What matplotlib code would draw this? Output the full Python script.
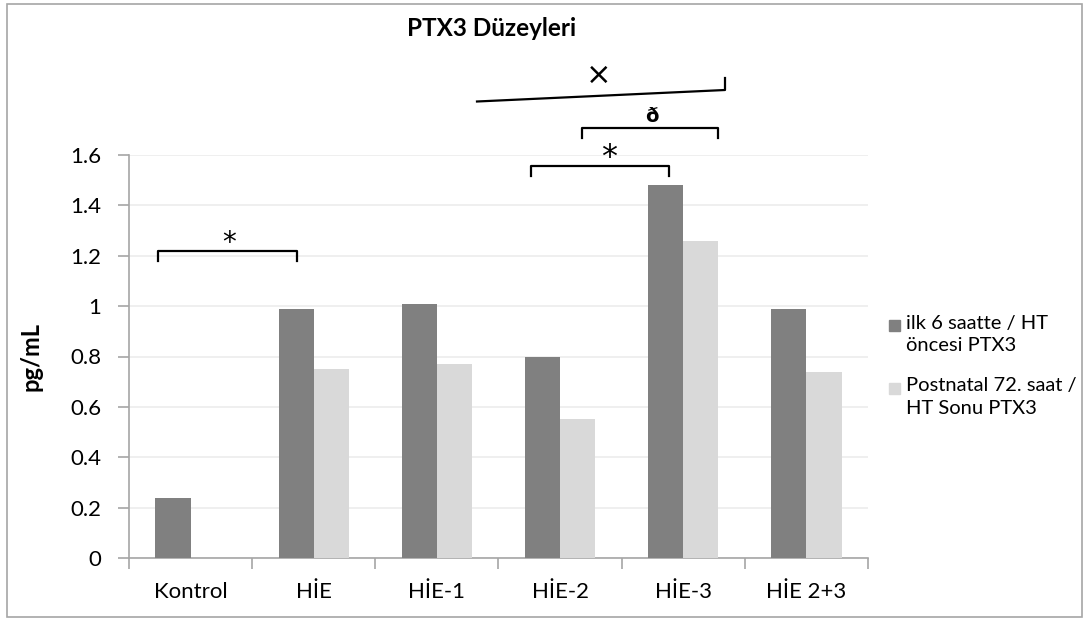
import matplotlib
matplotlib.use("Agg")
import matplotlib.pyplot as plt
from matplotlib.patches import Rectangle
import numpy as np

categories = ["Kontrol", "HİE", "HİE-1", "HİE-2", "HİE-3", "HİE 2+3"]
series_names = ["ilk 6 saatte / HT\nöncesi PTX3", "Postnatal 72. saat /\nHT Sonu PTX3"]
before = [0.24, 0.99, 1.01, 0.80, 1.48, 0.99]
after = [0.0, 0.75, 0.77, 0.55, 1.26, 0.74]
yticks = [0, 0.2, 0.4, 0.6, 0.8, 1, 1.2, 1.4, 1.6]
ytick_labels = ["0", "0.2", "0.4", "0.6", "0.8", "1", "1.2", "1.4", "1.6"]
title = "PTX3 Düzeyleri"
ylabel = "pg/mL"

FAM = ["Lato", "DejaVu Sans"]
plt.rcParams["font.family"] = FAM

dark = "#808080"
light = "#d9d9d9"
axis_col = "#a6a6a6"

W, H = 1090, 619
fig = plt.figure(figsize=(W / 100, H / 100), dpi=100)

def fx(px):
    return px / W

def fy(py):
    return 1 - py / H

# outer border
fig.patches.append(Rectangle((fx(7), fy(617)), fx(1082) - fx(7), fy(4) - fy(617),
                             transform=fig.transFigure, fill=False,
                             edgecolor="#a6a6a6", lw=1.2, zorder=0))

ax = fig.add_axes([fx(129), fy(558), fx(868) - fx(129), fy(155) - fy(558)])
x = np.arange(len(categories))
bw = 0.285
ax.bar(x - bw / 2, before, bw, color=dark, zorder=3)
ax.bar(x + bw / 2, after, bw, color=light, zorder=3)

ax.set_xlim(-0.5, len(categories) - 0.5)
ax.set_ylim(0, 1.6)
ax.set_yticks(yticks)
ax.set_yticklabels(ytick_labels, fontsize=16)
ax.yaxis.grid(True, color="#ececec", lw=1.2, zorder=0)
ax.set_axisbelow(True)

ax.set_xticks(x)
ax.set_xticklabels(categories, fontsize=16)
ax.tick_params(axis="x", length=0, pad=17)
ax.set_xticks(np.arange(-0.5, len(categories)), minor=True)
ax.tick_params(axis="x", which="minor", length=8, color=axis_col, width=1.2)
ax.tick_params(axis="y", length=8, color=axis_col, width=1.2, pad=12)

for s in ["top", "right"]:
    ax.spines[s].set_visible(False)
for s in ["left", "bottom"]:
    ax.spines[s].set_color(axis_col)
    ax.spines[s].set_linewidth(1.2)

ax.set_ylabel(ylabel, fontsize=17, fontweight="bold")
ax.yaxis.set_label_coords((43 - 129) / (868 - 129), 0.5)

fig.text(fx(492), fy(28), title, fontsize=17.5, fontweight="bold",
         ha="center", va="center")

# significance annotations (in pixel -> figure coords)
def bracket(x1, x2, y, ydrop, label, lx, ly, fs, fw="normal"):
    fig.add_artist(plt.Line2D([fx(x1), fx(x1), fx(x2), fx(x2)],
                              [fy(y + ydrop), fy(y), fy(y), fy(y + ydrop)],
                              transform=fig.transFigure, color="black", lw=1.6))
    fig.text(fx(lx), fy(ly), label, fontsize=fs, ha="center", va="center",
             family=["DejaVu Sans"], fontweight=fw)

bracket(158, 297, 251, 10, "*", 229, 243, 20)
bracket(531, 669, 166, 10, "*", 609, 157, 23)
bracket(582, 718, 128, 10, "ð", 652, 117, 14, "bold")

fig.add_artist(plt.Line2D([fx(477), fx(725), fx(725)], [fy(101.5), fy(90), fy(78)],
                          transform=fig.transFigure, color="black", lw=1.6))
fig.text(fx(599), fy(75), "×", fontsize=22, ha="center", va="center",
         family=["DejaVu Sans"])

# legend
leg_items = [(dark, series_names[0], 325.5), (light, series_names[1], 388.5)]
for col, name, yc in leg_items:
    fig.patches.append(Rectangle((fx(889), fy(yc + 5.5)), fx(11), 11 / H,
                                 transform=fig.transFigure, color=col))
    fig.text(fx(906), fy(yc - 11), name, fontsize=14.5, ha="left", va="top",
             linespacing=1.4)

fig.savefig("out.png", dpi=100)
